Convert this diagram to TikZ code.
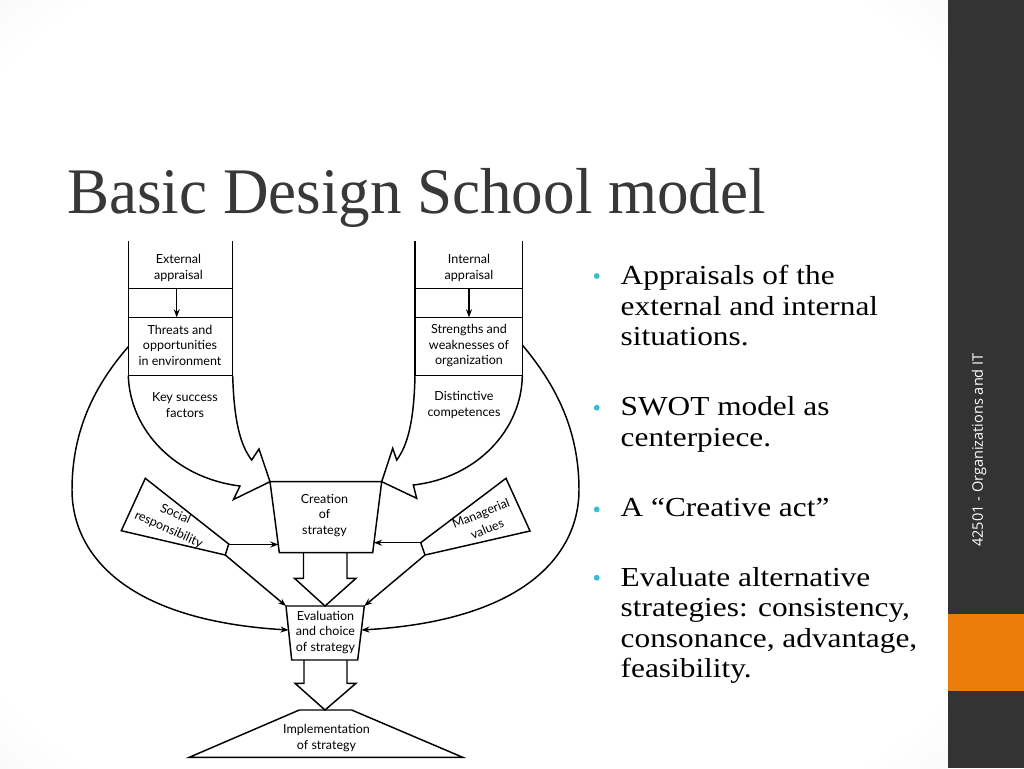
\documentclass[tikz,border=0pt]{standalone}
\usepackage{fontspec}
\setmainfont{Liberation Serif}
\newfontfamily\titlefont[FakeStretch=0.97]{Liberation Serif}
\newfontfamily\bodyfont[FakeStretch=1.14]{Liberation Serif}
\newfontfamily\diafont{Lato}
\newfontfamily\sidefont{Open Sans}
\usetikzlibrary{arrows.meta}

\definecolor{sidegray}{RGB}{51,51,51}
\definecolor{sideorange}{RGB}{237,125,10}
\definecolor{bulletcyan}{RGB}{54,190,206}
\definecolor{titlegray}{RGB}{56,56,56}

\pgfdeclareradialshading{slidebg}{\pgfpoint{0bp}{0bp}}{color(0bp)=(white); color(32bp)=(white); color(72bp)=(black!24)}

\tikzset{every picture/.style={line width=1.1pt}}
\tikzset{
  lbl/.style={font=\diafont\fontsize{9.4}{11.8}\selectfont, align=center, inner sep=0.75pt},
  tiltlbl/.style={lbl, font=\diafont\fontsize{9.4}{12.6}\selectfont},
  arr/.style={-{Stealth[length=6pt,width=4.5pt]}},
  bullettext/.style={anchor=north west, inner sep=0pt, align=left, font=\bodyfont\fontsize{20.6}{22.9}\selectfont}
}

\begin{document}
\begin{tikzpicture}[x=0.75pt,y=0.75pt,yscale=-1,xscale=1]
\path[use as bounding box] (0,0) rectangle (1024,768);

%Background
\shade[shading=slidebg] (0,0) rectangle (948,768);
\fill[white] (72,240) rectangle (585,760);
%Side bar
\fill[sidegray] (948,0) rectangle (1024,768);
\fill[sideorange] (948,614) rectangle (1024,691);
% Text Node
\node[rotate=90, inner sep=0pt, text=white, font=\sidefont\fontsize{10.9}{13}\selectfont] (course) at (979,450) {42501 - Organizations and IT};

% Text Node
\node[anchor=base west, inner sep=0pt, text=titlegray, font=\titlefont\fontsize{48.75}{58}\selectfont] (title) at (66.5,213.3) {Basic Design School model};

%Bullets
\fill[bulletcyan] (596.7,276) circle (2.9);
\fill[bulletcyan] (596.7,407.7) circle (2.9);
\fill[bulletcyan] (596.7,509.4) circle (2.9);
\fill[bulletcyan] (596.7,577.7) circle (2.9);
% Text Node
\node[bullettext] (appraisals) at (620,264.5) {Appraisals of the\\external and internal\\situations.};
% Text Node
\node[bullettext] (swot) at (620,396.2) {SWOT model as\\centerpiece.};
% Text Node
\node[bullettext] (creative) at (620,497.9) {A “Creative act”};
% Text Node
\node[bullettext] (evaluate) at (620,566.2) {Evaluate alternative\\strategies: consistency,\\consonance, advantage,\\feasibility.};

%Corners
\coordinate (crTL) at (270,481.7);
\coordinate (crTR) at (381.7,481.7);
\coordinate (crBR) at (372.7,552.7);
\coordinate (crBL) at (279.3,552.7);
\coordinate (evTL) at (286,606);
\coordinate (evTR) at (364.3,606);
\coordinate (evBR) at (357.7,660);
\coordinate (evBL) at (291.7,660);
\coordinate (imTL) at (299.3,710);
\coordinate (imTR) at (351.7,710);
\coordinate (imBR) at (462.7,757.3);
\coordinate (imBL) at (189.3,757.3);

%External column
\draw (128.3,241) -- (128.3,375.7);
\draw (232.7,241) -- (232.7,375.7);
\draw (128.3,288.3) -- (232.7,288.3);
\draw (128.3,317.3) -- (232.7,317.3);
\draw (128.3,375.7) -- (232.7,375.7);
\draw (128.3,375.7) .. controls (130,430) and (175,478) .. (240,486) -- (233.5,499.5) -- (crTL) -- (259,449) -- (251.7,460) .. controls (240,445) and (234,420) .. (232.7,375.7);
\coordinate (extS) at (176.7,288.3);
\coordinate (thrN) at (176.7,317.3);
\draw[arr] (extS) -- (thrN);
% Text Node
\node[lbl] (external) at (178.5,267.8) {External\\appraisal};
% Text Node
\node[lbl] (threats) at (180,345.3) {Threats and\\opportunities\\in environment};
% Text Node
\node[lbl] (keysuccess) at (185,405) {Key success\\factors};

%Internal column
\draw (415,241) -- (415,375.7);
\draw (522.3,241) -- (522.3,375.7);
\draw (415,288.3) -- (522.3,288.3);
\draw (415,317.3) -- (522.3,317.3);
\draw (415,375.7) -- (522.3,375.7);
\draw (522.3,375.7) .. controls (521.6,430) and (476.6,478) .. (413.3,485) -- (416.7,498.3) -- (crTR) -- (392.7,448.3) -- (396.7,460) .. controls (408,445) and (414,420) .. (415,375.7);
\coordinate (intS) at (469,288.3);
\coordinate (strN) at (469,317.3);
\draw[arr] (intS) -- (strN);
% Text Node
\node[lbl] (internal) at (469,267.8) {Internal\\appraisal};
% Text Node
\node[lbl] (strengths) at (469,345.7) {Strengths and\\weaknesses of\\organization};
% Text Node
\node[lbl] (distinctive) at (464,405) {Distinctive\\competences};

%Creation of strategy
\draw (crTL) -- (crTR) -- (crBR) -- (crBL) -- cycle;
% Text Node
\node[lbl] (creation) at (324.5,515.5) {Creation\\of\\strategy};

%Evaluation and choice
\draw (evTL) -- (evTR) -- (evBR) -- (evBL) -- cycle;
% Text Node
\node[lbl] (evaluation) at (325.5,632.3) {Evaluation\\and choice\\of strategy};

%Implementation
\draw (imTL) -- (imTR) -- (imBR) -- (imBL) -- cycle;
% Text Node
\node[lbl] (implementation) at (326.5,737.7) {Implementation\\of strategy};

%Block arrows
\draw (303.5,552.7) -- (303.5,578.3) -- (294.5,578.3) -- (325,606) -- (356,578.3) -- (347,578.3) -- (347,552.7);
\draw (304,660) -- (304,683.3) -- (295,683.3) -- (325,710) -- (356,683.3) -- (347,683.3) -- (347,660);

%Social responsibility
\draw (145.3,478.3) -- (228.7,544) -- (225.3,555) -- (121.3,530.7) -- cycle;
% Text Node
\node[tiltlbl, rotate=-24] (social) at (172,522) {Social\\responsibility};
\coordinate (socE) at (228.7,544.5);
\coordinate (crW) at (278.3,544.5);
\coordinate (socSE) at (225.3,555);
\draw[arr] (socE) -- (crW);
\draw[arr] (socSE) -- (evTL);

%Managerial values
\draw (506,478.3) -- (530,531) -- (425,555) -- (420.7,542.7) -- cycle;
% Text Node
\node[tiltlbl, rotate=22] (managerial) at (484,521) {Managerial\\values};
\coordinate (manW) at (420.7,542.7);
\coordinate (crE) at (374,542.7);
\coordinate (manSW) at (425,555);
\draw[arr] (manW) -- (crE);
\draw[arr] (manSW) -- (evTR);

%Outer curves
\coordinate (thrW) at (128.3,346.7);
\coordinate (evW) at (288.5,630);
\draw[arr] (thrW) .. controls (95,385) and (72,430) .. (72,490) .. controls (72,550) and (120,620) .. (evW);
\coordinate (strE) at (522.3,345);
\coordinate (evE) at (361.4,630);
\draw[arr] (strE) .. controls (556,385) and (579,430) .. (579,490) .. controls (579,550) and (531,620) .. (evE);

\end{tikzpicture}
\end{document}
